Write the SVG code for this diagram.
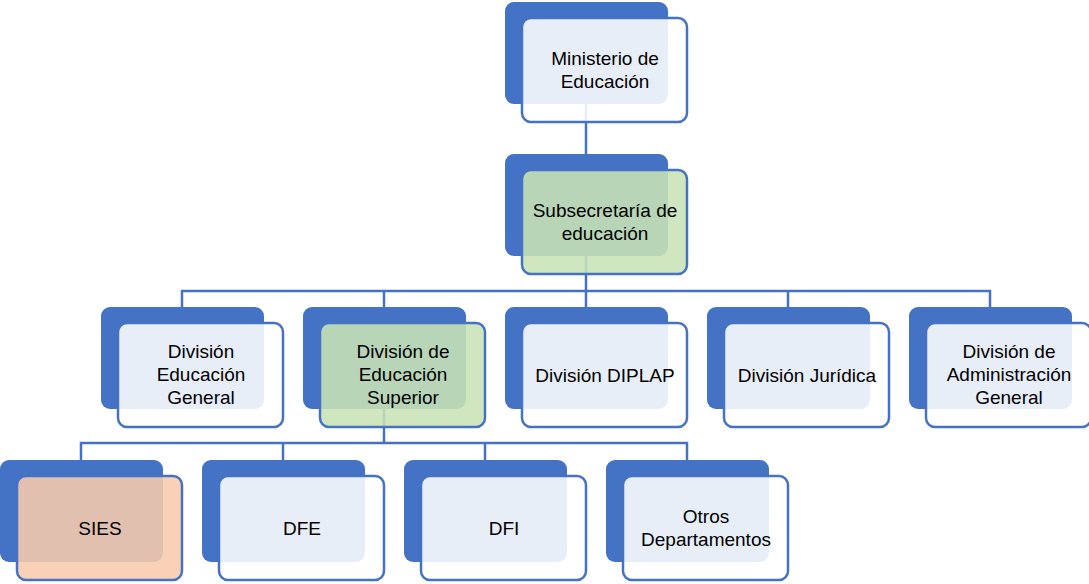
<svg xmlns="http://www.w3.org/2000/svg" width="1089" height="584" viewBox="0 0 1089 584">
<style>
.back{fill:#4472C4;}
.front{fill:#FFFFFF;fill-opacity:0.88;stroke:#4472C4;stroke-width:2.5;}
.green{fill:#C9E2B6;}
.orange{fill:#F8CBAD;}
.conn{fill:none;stroke:#4472C4;stroke-width:2.5;}
text{font-family:"Liberation Sans",Arial,sans-serif;font-size:19px;fill:#000;text-anchor:middle;}
</style>
<rect width="1089" height="584" fill="#FFFFFF"/>
<g id="connectors">
<path class="conn" d="M586,103V154"/>
<path class="conn" d="M586,256V291M182,307V291H990V307M384,291V307M586,291V307M788,291V307"/>
<path class="conn" d="M384,409V443M81,460V443H687V460M283,443V460M485,443V460"/>
</g>
<g id="n-ministerio">
<rect class="back" x="505" y="2" width="163" height="102" rx="9"/>
<rect class="front" x="522" y="18" width="165" height="104" rx="9"/>
<text x="605" y="65">Ministerio de</text>
<text x="605" y="88">Educación</text>
</g>
<g id="n-subsecretaria">
<rect class="back" x="505" y="154" width="163" height="102" rx="9"/>
<rect class="front green" x="522" y="170" width="165" height="104" rx="9"/>
<text x="605" y="217">Subsecretaría de</text>
<text x="605" y="240">educación</text>
</g>
<g id="n-deg">
<rect class="back" x="101" y="307" width="163" height="102" rx="9"/>
<rect class="front" x="118" y="323" width="165" height="104" rx="9"/>
<text x="201" y="358">División</text>
<text x="201" y="381">Educación</text>
<text x="201" y="404">General</text>
</g>
<g id="n-des">
<rect class="back" x="303" y="307" width="163" height="102" rx="9"/>
<rect class="front green" x="320" y="323" width="165" height="104" rx="9"/>
<text x="403" y="358">División de</text>
<text x="403" y="381">Educación</text>
<text x="403" y="404">Superior</text>
</g>
<g id="n-diplap">
<rect class="back" x="505" y="307" width="163" height="102" rx="9"/>
<rect class="front" x="522" y="323" width="165" height="104" rx="9"/>
<text x="605" y="382">División DIPLAP</text>
</g>
<g id="n-juridica">
<rect class="back" x="707" y="307" width="163" height="102" rx="9"/>
<rect class="front" x="724" y="323" width="165" height="104" rx="9"/>
<text x="807" y="382">División Jurídica</text>
</g>
<g id="n-dag">
<rect class="back" x="909" y="307" width="163" height="102" rx="9"/>
<rect class="front" x="926" y="323" width="165" height="104" rx="9"/>
<text x="1009" y="358">División de</text>
<text x="1009" y="381">Administración</text>
<text x="1009" y="404">General</text>
</g>
<g id="n-sies">
<rect class="back" x="0" y="460" width="163" height="102" rx="9"/>
<rect class="front orange" x="17" y="476" width="165" height="104" rx="9"/>
<text x="100" y="535">SIES</text>
</g>
<g id="n-dfe">
<rect class="back" x="202" y="460" width="163" height="102" rx="9"/>
<rect class="front" x="219" y="476" width="165" height="104" rx="9"/>
<text x="302" y="535">DFE</text>
</g>
<g id="n-dfi">
<rect class="back" x="404" y="460" width="163" height="102" rx="9"/>
<rect class="front" x="421" y="476" width="165" height="104" rx="9"/>
<text x="504" y="535">DFI</text>
</g>
<g id="n-otros">
<rect class="back" x="606" y="460" width="163" height="102" rx="9"/>
<rect class="front" x="623" y="476" width="165" height="104" rx="9"/>
<text x="706" y="523">Otros</text>
<text x="706" y="546">Departamentos</text>
</g>
</svg>
